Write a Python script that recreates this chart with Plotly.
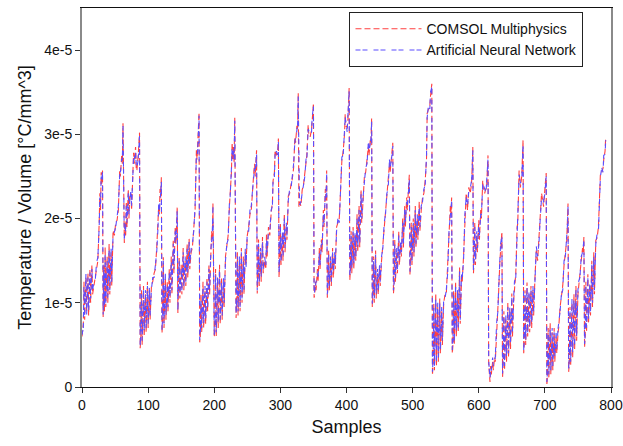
import plotly.graph_objects as go
import numpy as np

SCALE = 1e-6  # values below are in units of 1e-6 °C/mm^3

samples = [
    0, 2, 3, 4, 6, 7, 9, 10, 12, 13, 15, 16, 18, 20, 22, 24, 26, 27, 28, 29, 30, 31,
    32, 33, 34, 35, 36, 38, 39, 41, 42, 44, 45, 47, 49, 51, 53, 55, 57, 58, 60, 61, 62,
    64, 65, 66, 67, 68, 70, 71, 72, 74, 75, 76, 78, 79, 81, 82, 83, 85, 86, 87,
    88, 89, 90, 91, 93, 94, 96, 97, 99, 100, 102, 103, 105, 107, 109, 111, 113, 115, 116, 117, 118, 119, 120,
    121, 122, 123, 124, 126, 127, 129, 130, 132, 133, 135, 136, 138, 139, 141, 142, 144,
    145, 146, 147, 148, 150, 151, 153, 154, 156, 157, 159, 160, 162, 163, 165, 167, 169, 171, 172, 173, 174, 175, 176, 177,
    178, 179, 180, 181, 183, 184, 186, 187, 189, 190, 192, 193, 195, 196, 197, 198,
    200, 201, 202, 203, 205, 206, 208, 209, 211, 212, 214, 215, 217, 219, 221, 223, 224, 226, 227, 228, 229, 230, 231,
    233, 234, 235, 236, 238, 239, 241, 242, 244, 245, 247, 248, 250, 252, 254, 256, 258, 260, 261, 262, 264,
    265, 266, 267, 268, 270, 271, 273, 274, 276, 278, 279, 280, 282, 284, 286, 288, 289, 291, 292, 294, 296, 297,
    298, 299, 300, 301, 303, 304, 306, 307, 309, 310, 312, 314, 316, 318, 320, 322, 323, 325, 326, 327,
    328, 329, 331, 333, 335, 337, 339, 340, 342, 343, 345, 347, 348, 350,
    351, 352, 353, 354, 356, 357, 359, 360, 362, 363, 365, 366, 368, 369, 370,
    371, 372, 373, 374, 376, 377, 379, 380, 382, 383, 385, 387, 389, 390, 392, 393, 395, 397, 398, 399, 401, 402, 404,
    405, 406, 407, 408, 410, 411, 413, 414, 416, 417, 419, 420, 422, 423, 425, 427, 429, 431, 433, 434, 436, 437, 438,
    439, 440, 441, 442, 444, 445, 447, 448, 450, 451, 453, 455, 457, 459, 461, 463, 465, 466, 468, 470,
    471, 472, 473, 474, 476, 477, 479, 480, 482, 483, 485, 486, 488, 489, 491, 492, 494, 495,
    496, 497, 498, 499, 501, 502, 504, 505, 507, 508, 510, 511, 513, 515, 517, 519, 521, 522, 524, 526, 527, 529,
    530, 531, 532, 533, 535, 536, 538, 539, 541, 542, 544, 545, 547, 549, 551, 553, 555, 557, 558, 559,
    560, 561, 562, 563, 565, 566, 568, 569, 571, 572, 574, 575, 577, 579, 581, 583, 585, 587, 589, 590, 591,
    592, 593, 594, 595, 597, 598, 600, 601, 603, 604, 606, 607, 609, 611, 612, 614,
    615, 617, 618, 619, 621, 622, 624, 625, 627, 629, 630, 632, 633, 635,
    636, 637, 638, 639, 641, 642, 644, 645, 647, 648, 650, 651, 653, 654, 656, 658, 659, 661, 663, 665, 667,
    668, 669, 670, 671, 673, 674, 676, 677, 679, 680, 682, 683, 685, 687, 689, 691, 693, 695, 697, 698, 700, 702,
    703, 704, 705, 706, 708, 709, 711, 712, 714, 715, 717, 718, 720, 721, 723, 725, 727, 729, 731, 733, 734, 735,
    736, 737, 738, 739, 741, 742, 744, 745, 747, 748, 750, 751, 753, 755, 757, 758, 759,
    760, 761, 762, 763, 765, 766, 768, 769, 771, 772, 774, 775, 777, 779, 781, 782, 784, 786, 788, 789, 791, 792,
]

comsol = [
    6.0, 7.5, 12.5, 8.0, 13.0, 9.0, 13.5, 8.5, 14.0, 10.0, 14.5, 11.0, 12.0, 13.0, 14.5, 15.0, 19.5, 23.0, 21.0, 25.5, 24.0, 25.7,
    8.3, 14.5, 9.0, 16.6, 9.5, 15.5, 10.0, 17.0, 11.0, 16.0, 12.0, 18.6, 18.0, 19.5, 19.8, 21.0, 25.7, 25.0, 27.5, 26.5, 31.3,
    17.1, 19.5, 18.0, 22.0, 19.0, 23.5, 20.0, 22.5, 23.0, 21.0, 24.0, 27.8, 26.5, 28.5, 26.0, 25.7, 27.5, 29.0, 30.2,
    4.6, 6.0, 11.5, 5.0, 12.0, 6.0, 11.0, 6.5, 12.5, 7.0, 11.5, 8.0, 12.0, 12.5, 13.5, 14.0, 16.5, 19.5, 21.5, 20.5, 23.5, 22.5, 24.9,
    6.4, 8.0, 15.4, 7.0, 13.0, 8.0, 12.5, 9.0, 14.0, 10.0, 15.5, 11.0, 17.5, 13.5, 19.0, 17.0, 21.4,
    8.8, 12.0, 15.4, 10.5, 14.5, 11.0, 16.5, 11.5, 15.0, 12.0, 17.0, 13.0, 17.6, 14.0, 16.0, 16.6, 19.0, 21.0, 24.5, 28.1, 27.0, 28.5, 30.0, 32.6,
    5.3, 6.0, 11.0, 6.5, 12.5, 7.0, 11.5, 7.5, 13.0, 9.0, 14.5, 11.0, 16.0, 18.5, 17.5, 21.8,
    5.9, 7.0, 14.0, 6.0, 12.5, 7.0, 14.5, 7.5, 13.0, 8.0, 12.5, 9.5, 15.5, 16.6, 18.0, 21.5, 23.0, 25.5, 29.0, 27.0, 28.5, 26.6, 32.0,
    8.2, 10.0, 16.0, 8.5, 15.0, 9.0, 16.5, 10.0, 15.5, 11.0, 16.0, 14.5, 18.0, 19.0, 20.5, 21.0, 24.0, 25.7, 26.5, 25.0, 28.1,
    11.1, 13.0, 17.5, 12.0, 16.0, 12.5, 17.8, 13.5, 15.0, 14.0, 18.1, 15.5, 19.0, 18.0, 20.6, 22.0, 24.5, 25.5, 28.1, 27.5, 28.0, 29.5,
    13.0, 15.0, 19.5, 14.5, 18.0, 15.0, 20.6, 16.0, 19.0, 17.5, 22.7, 23.0, 24.0, 24.7, 26.0, 29.7, 29.0, 31.0, 30.5, 34.9,
    21.4, 22.0, 21.5, 23.4, 24.0, 25.5, 26.9, 27.5, 31.1, 30.0, 29.7, 30.5, 31.5, 33.7,
    10.6, 11.0, 12.5, 11.5, 14.0, 12.5, 16.5, 14.0, 17.5, 16.0, 21.0, 19.0, 23.5, 22.0, 25.7,
    10.6, 12.0, 16.2, 11.5, 15.0, 12.0, 16.5, 13.0, 15.5, 14.0, 19.0, 19.5, 20.0, 21.5, 25.0, 26.9, 28.0, 30.0, 32.4, 31.0, 30.8, 31.5, 35.5,
    12.7, 14.0, 18.5, 13.5, 19.0, 14.0, 18.0, 15.0, 20.5, 16.0, 21.5, 16.6, 23.4, 19.5, 22.0, 24.9, 25.5, 27.0, 28.5, 27.5, 29.3, 29.0, 31.9,
    9.5, 11.0, 15.5, 10.0, 16.2, 10.5, 13.5, 11.0, 14.0, 12.0, 15.0, 17.0, 19.0, 21.0, 22.5, 24.0, 26.5, 25.5, 27.5, 29.0,
    11.1, 12.0, 17.5, 12.5, 16.0, 13.5, 18.5, 14.5, 17.0, 15.5, 20.0, 16.5, 21.5, 19.0, 22.5, 21.0, 24.0, 25.2,
    13.3, 15.0, 19.5, 14.5, 20.0, 15.5, 21.5, 16.5, 20.0, 17.5, 22.0, 18.5, 21.0, 22.5, 23.0, 24.5, 27.0, 32.5, 33.0, 33.4, 34.5, 36.0,
    1.4, 3.0, 10.0, 2.0, 11.1, 2.5, 9.5, 3.0, 10.5, 4.0, 9.0, 5.0, 10.0, 11.0, 11.1, 14.0, 18.0, 21.5, 20.5, 22.5,
    4.0, 5.0, 11.5, 5.0, 12.5, 6.0, 11.0, 6.5, 14.2, 7.5, 13.0, 12.5, 15.5, 20.0, 23.0, 21.0, 23.7, 23.0, 24.0, 26.0, 28.5,
    13.5, 15.0, 19.5, 14.5, 18.0, 16.0, 19.8, 17.5, 21.0, 20.0, 24.5, 23.5, 23.0, 23.5, 24.0, 27.5,
    2.8, 0.6, 2.5, 1.5, 3.0, 2.0, 3.5, 3.0, 7.1, 9.5, 11.1, 15.0, 16.5, 18.4,
    1.2, 3.0, 9.0, 2.0, 8.0, 3.0, 10.0, 3.5, 9.0, 4.5, 11.1, 6.0, 10.5, 12.0, 13.5, 19.0, 19.4, 25.7, 23.7, 25.0, 29.3,
    4.0, 5.5, 11.5, 5.0, 12.4, 6.0, 11.0, 6.5, 12.0, 7.0, 11.5, 8.5, 13.0, 16.2, 15.0, 17.4, 19.5, 23.0, 22.0, 21.4, 23.5, 25.4,
    0.2, 1.5, 7.0, 1.0, 7.6, 1.5, 6.5, 2.0, 7.0, 3.0, 6.0, 4.0, 6.5, 7.1, 9.5, 10.5, 12.0, 14.5, 16.0, 17.4, 19.5, 21.8,
    1.8, 3.0, 9.5, 2.5, 10.0, 3.5, 11.0, 4.5, 12.0, 5.5, 11.0, 12.0, 13.5, 15.0, 16.5, 16.0, 17.8,
    4.7, 6.0, 12.5, 6.5, 13.4, 7.5, 12.0, 8.5, 15.0, 9.5, 16.0, 11.0, 17.4, 17.7, 19.0, 20.6, 25.4, 25.5, 26.0, 27.0, 28.0, 29.7,
]

ann = [
    6.2, 7.0, 12.0, 8.5, 13.5, 8.6, 13.0, 9.0, 13.6, 10.5, 14.0, 11.5, 12.4, 12.6, 14.8, 15.4, 19.0, 22.5, 21.6, 25.0, 24.5, 25.5,
    8.6, 14.0, 9.5, 16.0, 10.0, 15.0, 10.6, 16.5, 11.5, 16.4, 12.5, 18.2, 18.4, 19.0, 20.2, 21.5, 25.2, 25.4, 27.0, 27.0, 31.0,
    17.5, 19.0, 18.5, 21.5, 19.5, 23.0, 20.5, 22.0, 23.4, 21.5, 23.5, 27.2, 27.0, 28.0, 26.4, 26.0, 27.0, 29.5, 29.8,
    5.0, 6.5, 11.0, 5.5, 11.5, 6.5, 11.5, 7.0, 12.0, 7.5, 12.0, 8.5, 11.6, 13.0, 13.0, 14.5, 16.0, 19.0, 22.0, 21.0, 23.0, 23.0, 24.5,
    6.8, 8.5, 15.0, 7.5, 13.5, 8.5, 12.0, 9.5, 13.5, 10.5, 15.0, 11.5, 17.0, 14.0, 18.5, 17.5, 21.0,
    9.2, 12.5, 15.0, 11.0, 14.0, 11.5, 16.0, 12.0, 15.5, 12.5, 16.5, 13.5, 17.2, 14.5, 16.4, 17.0, 18.5, 21.5, 24.0, 27.6, 27.5, 28.0, 30.5, 32.2,
    5.6, 6.5, 10.5, 7.0, 12.0, 7.5, 12.0, 8.0, 12.5, 9.5, 14.0, 11.5, 16.5, 18.0, 18.0, 21.4,
    6.2, 7.5, 13.5, 6.5, 13.0, 7.5, 14.0, 8.0, 12.5, 8.5, 13.0, 10.0, 15.0, 17.0, 17.5, 22.0, 22.5, 26.0, 28.5, 27.5, 28.0, 27.0, 31.6,
    8.6, 10.5, 15.5, 9.0, 15.5, 9.5, 16.0, 10.5, 15.0, 11.5, 16.5, 14.0, 18.5, 18.5, 21.0, 21.5, 23.5, 26.0, 26.0, 25.5, 27.8,
    11.5, 13.5, 17.0, 12.5, 16.5, 13.0, 17.3, 14.0, 15.5, 14.5, 17.6, 16.0, 18.5, 18.5, 21.0, 21.5, 25.0, 25.0, 27.6, 28.0, 27.5, 29.1,
    13.4, 15.5, 19.0, 15.0, 18.5, 15.5, 20.0, 16.5, 19.5, 18.0, 22.2, 23.5, 23.5, 25.2, 26.5, 29.2, 29.5, 30.5, 31.0, 34.5,
    21.8, 21.6, 22.0, 23.0, 24.5, 25.0, 27.3, 27.0, 30.6, 30.5, 30.2, 30.0, 32.0, 33.3,
    11.0, 11.5, 12.0, 12.0, 13.5, 13.0, 16.0, 14.5, 17.0, 16.5, 20.5, 19.5, 23.0, 22.5, 25.3,
    11.0, 12.5, 15.7, 12.0, 15.5, 12.5, 16.0, 13.5, 16.0, 14.5, 18.5, 20.0, 19.5, 22.0, 24.5, 27.3, 27.5, 30.5, 32.0, 31.5, 30.3, 32.0, 35.1,
    13.1, 14.5, 18.0, 14.0, 18.5, 14.5, 18.5, 15.5, 20.0, 16.5, 21.0, 17.0, 23.0, 20.0, 22.5, 24.4, 26.0, 26.5, 29.0, 28.0, 28.8, 29.5, 31.5,
    9.9, 11.5, 15.0, 10.5, 15.7, 11.0, 14.0, 11.5, 14.5, 12.5, 15.5, 16.5, 19.5, 20.5, 23.0, 23.5, 27.0, 26.0, 27.0, 28.6,
    11.5, 12.5, 17.0, 13.0, 16.5, 14.0, 18.0, 15.0, 17.5, 16.0, 19.5, 17.0, 21.0, 19.5, 22.0, 21.5, 23.5, 24.8,
    13.7, 15.5, 19.0, 15.0, 19.5, 16.0, 21.0, 17.0, 20.5, 18.0, 21.5, 19.0, 21.5, 22.0, 23.5, 24.0, 27.5, 32.0, 33.5, 33.0, 35.0, 35.6,
    1.8, 3.5, 9.5, 2.5, 10.6, 3.0, 10.0, 3.5, 10.0, 4.5, 9.5, 5.5, 10.5, 10.5, 11.6, 13.5, 18.5, 21.0, 21.0, 22.1,
    4.4, 5.5, 11.0, 5.5, 12.0, 6.5, 11.5, 7.0, 13.7, 8.0, 13.5, 13.0, 15.0, 20.5, 22.5, 21.5, 23.3, 23.5, 24.5, 25.5, 28.1,
    13.9, 15.5, 19.0, 15.0, 18.5, 16.5, 19.3, 18.0, 20.5, 20.5, 24.0, 24.0, 23.5, 23.0, 24.5, 27.1,
    3.2, 1.0, 2.0, 2.0, 3.5, 2.5, 3.0, 3.5, 7.6, 9.0, 11.6, 14.5, 17.0, 18.0,
    1.6, 3.5, 8.5, 2.5, 8.5, 3.5, 9.5, 4.0, 9.5, 5.0, 10.6, 6.5, 11.0, 12.5, 13.0, 18.5, 19.9, 25.2, 24.2, 24.5, 28.9,
    4.4, 6.0, 11.0, 5.5, 11.9, 6.5, 11.5, 7.0, 11.5, 7.5, 12.0, 9.0, 12.5, 16.7, 15.5, 17.0, 20.0, 22.5, 22.5, 21.9, 23.0, 25.0,
    0.6, 2.0, 6.5, 1.5, 7.1, 2.0, 7.0, 2.5, 6.5, 3.5, 6.5, 4.5, 7.0, 7.6, 9.0, 11.0, 11.5, 15.0, 15.5, 17.9, 19.0, 21.4,
    2.2, 3.5, 9.0, 3.0, 10.5, 4.0, 10.5, 5.0, 11.5, 6.0, 11.5, 12.5, 13.0, 15.5, 16.0, 16.5, 17.4,
    5.1, 6.5, 12.0, 7.0, 12.9, 8.0, 12.5, 9.0, 14.5, 10.0, 15.5, 11.5, 17.0, 18.2, 18.5, 21.1, 25.0, 26.0, 25.5, 27.5, 27.6, 29.3,
]

y_tick_vals = [0, 1e-5, 2e-5, 3e-5, 4e-5]
y_tick_text = ["0", "1e-5", "2e-5", "3e-5", "4e-5"]
x_tick_vals = [0, 100, 200, 300, 400, 500, 600, 700, 800]

assert len(samples) == len(comsol) == len(ann), (len(samples), len(comsol), len(ann))

FONT = "Liberation Sans, Arial, sans-serif"

fig = go.Figure()
fig.add_trace(go.Scatter(
    x=samples, y=np.array(comsol) * SCALE, mode="lines",
    name="COMSOL Multiphysics",
    line=dict(color="#ff4040", width=1.1, dash="6px,3px"),
))
fig.add_trace(go.Scatter(
    x=samples, y=np.array(ann) * SCALE, mode="lines",
    name="Artificial Neural Network",
    line=dict(color="#5a4dff", width=1.1, dash="5px,2px,5px,6px"),
))

fig.update_layout(
    width=623, height=446,
    margin=dict(l=82, r=12, t=8, b=59),
    paper_bgcolor="white", plot_bgcolor="white",
    font=dict(family=FONT, color="#111111", size=14),
    showlegend=True,
    legend=dict(
        x=0.948, y=0.989, xanchor="right", yanchor="top",
        bordercolor="#222222", borderwidth=1, bgcolor="white",
        font=dict(family=FONT, size=14, color="#111111"),
        tracegroupgap=0, itemwidth=66,
    ),
    xaxis=dict(
        range=[0, 800], tickvals=x_tick_vals, automargin=False,
        showgrid=False, zeroline=False,
        showline=True, linecolor="#111111", linewidth=1, mirror=True,
        ticks="outside", ticklen=5, tickcolor="#333333",
        tickfont=dict(family=FONT, size=14, color="#111111"),
        title=dict(text="Samples", font=dict(family=FONT, size=18, color="#111111"), standoff=8),
    ),
    yaxis=dict(
        range=[0, 4.5e-5], tickvals=y_tick_vals, ticktext=y_tick_text, automargin=False,
        showgrid=False, zeroline=False,
        showline=True, linecolor="#8a8a8a", linewidth=2, mirror=True,
        ticks="outside", ticklen=5, tickcolor="#333333",
        tickfont=dict(family=FONT, size=14, color="#111111"),
        title=dict(text="Temperature / Volume [°C/mm^3]", font=dict(family=FONT, size=18, color="#111111"), standoff=8),
    ),
)

fig.write_html("out.html")
